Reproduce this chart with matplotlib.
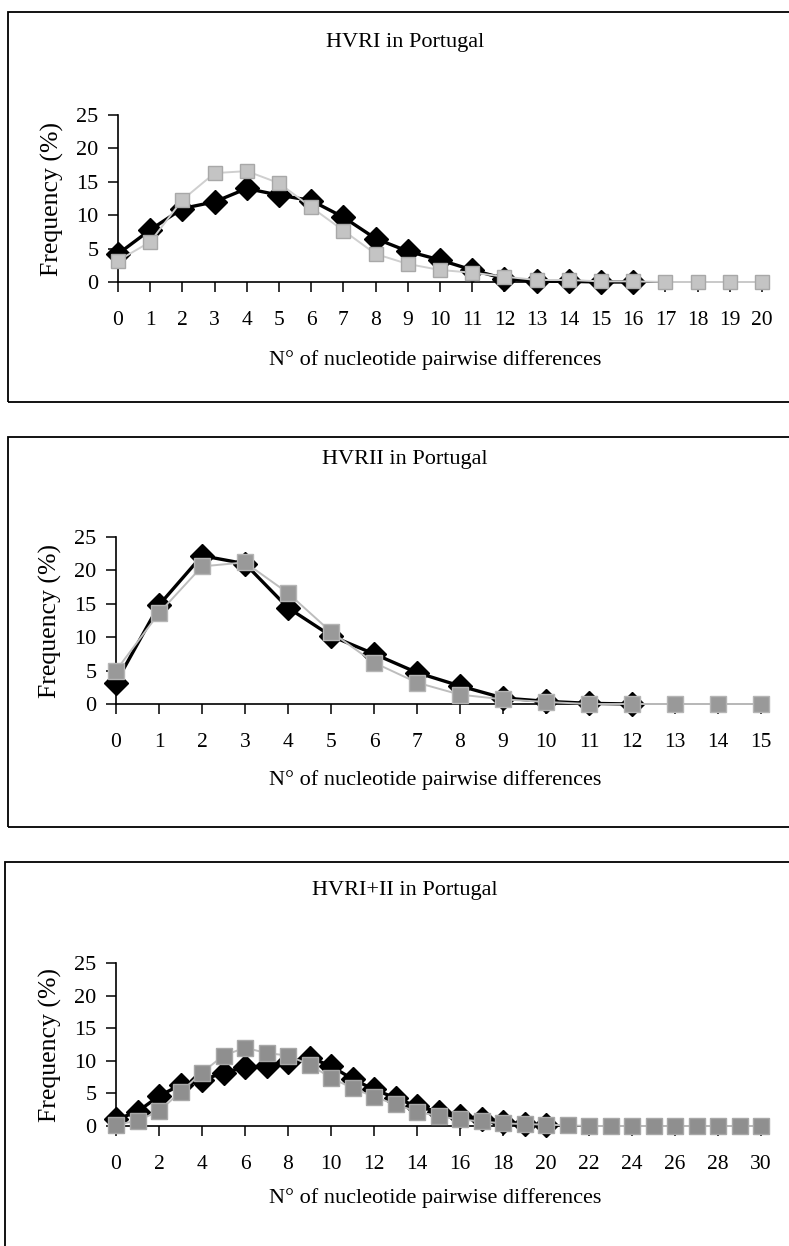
import matplotlib
matplotlib.use("Agg")
import matplotlib.pyplot as plt
from matplotlib.patches import Rectangle

plt.rcParams['font.family'] = ['Liberation Serif', 'DejaVu Serif']

W, H = 789, 1246

# ---- data -------------------------------------------------------------
titles = ["HVRI in Portugal", "HVRII in Portugal", "HVRI+II in Portugal"]
xlabel_text = "N\u00b0 of nucleotide pairwise differences"
ylabel_text = "Frequency (%)"
y_ticks = [0, 5, 10, 15, 20, 25]

# HVRI
hvr1_x_obs = list(range(0, 17))
hvr1_obs = [4.2, 7.8, 11.0, 12.0, 14.0, 13.0, 12.2, 9.7, 6.5, 4.6, 3.3, 1.8, 0.5, 0.1, 0.1, 0.0, 0.0]
hvr1_x_exp = list(range(0, 21))
hvr1_exp = [3.2, 6.0, 12.3, 16.3, 16.6, 14.8, 11.2, 7.7, 4.2, 2.7, 1.8, 1.4, 0.8, 0.3, 0.3, 0.1, 0.1, 0.0, 0.0, 0.0, 0.0]
hvr1_ticks = list(range(0, 21))

# HVRII
hvr2_x_obs = list(range(0, 13))
hvr2_obs = [3.2, 14.8, 22.2, 21.0, 14.4, 10.2, 7.5, 4.7, 2.7, 0.9, 0.4, 0.1, 0.0]
hvr2_x_exp = list(range(0, 16))
hvr2_exp = [5.0, 13.6, 20.6, 21.2, 16.6, 10.8, 6.2, 3.2, 1.4, 0.7, 0.3, 0.0, 0.0, 0.0, 0.0, 0.0]
hvr2_ticks = list(range(0, 16))

# HVRI+II
hvr12_x_obs = list(range(0, 21))
hvr12_obs = [1.0, 2.2, 4.6, 6.3, 7.0, 8.2, 9.0, 9.2, 9.8, 10.5, 9.2, 7.2, 5.6, 4.3, 3.0, 2.2, 1.5, 1.0, 0.6, 0.3, 0.1]
hvr12_x_exp = list(range(0, 31))
hvr12_exp = [0.2, 0.8, 2.3, 5.2, 8.2, 10.8, 12.0, 11.2, 10.8, 9.4, 7.4, 5.8, 4.5, 3.3, 2.2, 1.5, 1.0, 0.7, 0.4, 0.3, 0.2,
             0.1, 0.0, 0.0, 0.0, 0.0, 0.0, 0.0, 0.0, 0.0, 0.0]
hvr12_ticks = list(range(0, 31, 2))

panels = [
    dict(xo=hvr1_x_obs, yo=hvr1_obs, xe=hvr1_x_exp, ye=hvr1_exp, ticks=hvr1_ticks, xmax=20,
         ax_px=(118, 762, 282, 115), title_y=43, xlabel_y=360, box=(8, 12, 402),
         exp_face='#c4c4c4', exp_edge='#a8a8a8', exp_line='#cfcfcf', dsize=12.5, ssize=10),
    dict(xo=hvr2_x_obs, yo=hvr2_obs, xe=hvr2_x_exp, ye=hvr2_exp, ticks=hvr2_ticks, xmax=15,
         ax_px=(116, 761, 704, 537), title_y=460, xlabel_y=780, box=(8, 437, 827),
         exp_face='#999999', exp_edge='#b5b5b5', exp_line='#bdbdbd', dsize=12, ssize=11.5),
    dict(xo=hvr12_x_obs, yo=hvr12_obs, xe=hvr12_x_exp, ye=hvr12_exp, ticks=hvr12_ticks, xmax=30,
         ax_px=(116, 761, 1126, 963), title_y=890, xlabel_y=1198, box=(5, 862, 1290),
         exp_face='#8f8f8f', exp_edge='#a8a8a8', exp_line='#bdbdbd', dsize=12, ssize=11.5),
]

fig = plt.figure(figsize=(W / 100, H / 100), dpi=100)


def fx(px):
    return px / W


def fy(py):
    return 1 - py / H


for p, title in zip(panels, titles):
    x0, x1, y0, y1 = p['ax_px']
    ax = fig.add_axes([fx(x0), fy(y0), fx(x1 - x0), (y0 - y1) / H])

    # observed distribution: black diamonds
    ax.plot(p['xo'], p['yo'], color='black', lw=2.4, marker='D', ms=p['dsize'],
            mfc='black', mec='black', clip_on=False, zorder=3)
    # expected distribution: grey squares
    ax.plot(p['xe'], p['ye'], color=p['exp_line'], lw=1.4, marker='s', ms=p['ssize'],
            mfc=p['exp_face'], mec=p['exp_edge'], mew=1.0, clip_on=False, zorder=4)

    ax.set_xlim(0, p['xmax'])
    ax.set_ylim(0, 25)
    ax.set_xticks(p['ticks'])
    ax.set_xticklabels([str(t) for t in p['ticks']])
    ax.set_yticks(y_ticks)
    ax.set_yticklabels([str(t) for t in y_ticks])
    for s in ('top', 'right'):
        ax.spines[s].set_visible(False)
    for s in ('left', 'bottom'):
        ax.spines[s].set_linewidth(1.2)
    ax.tick_params(axis='x', direction='out', length=7, width=1.1, pad=14, labelsize=15.5)
    ax.tick_params(axis='y', direction='out', length=7, width=1.1, pad=7, labelsize=16)
    ax.set_ylabel(ylabel_text, fontsize=18.5, labelpad=9)
    ax.patch.set_alpha(0)

    fig.text(fx(405), fy(p['title_y']), title, ha='center', va='center', fontsize=16)
    fig.text(fx(435), fy(p['xlabel_y']), xlabel_text, ha='center', va='center', fontsize=16)

    bx, btop, bbot = p['box']
    fig.patches.append(Rectangle((fx(bx), fy(bbot)), fx(W + 20 - bx), (bbot - btop) / H,
                                 transform=fig.transFigure, fill=False, ec='black', lw=1.3))

fig.savefig("out.png", dpi=100, facecolor='white')
